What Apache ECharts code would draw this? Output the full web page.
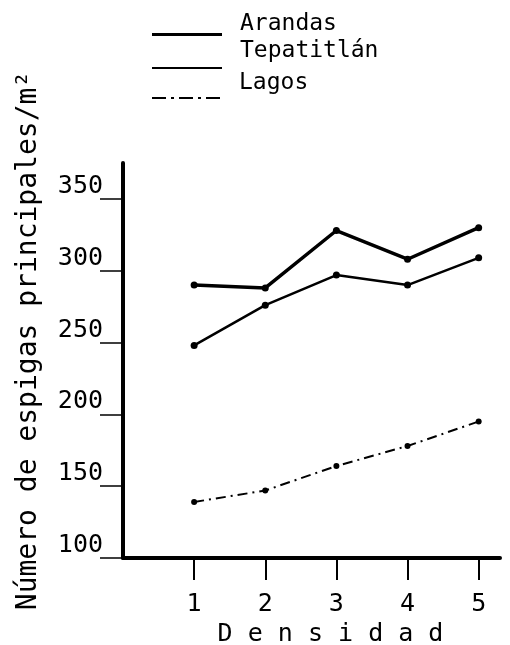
<!DOCTYPE html>
<html>
<head>
<meta charset="utf-8">
<script src="https://cdn.jsdelivr.net/npm/echarts@6/dist/echarts.min.js"></script>
<style>
  html, body { margin: 0; padding: 0; background: #fff; }
  #chart { width: 510px; height: 645px; }
</style>
</head>
<body>
<div id="chart"></div>
<script>
// Spike counts per square metre by planting density, three localities
const densidad = [1, 2, 3, 4, 5];
const arandas = [290, 288, 328, 308, 330];
const tepatitlan = [248, 276, 297, 290, 309];
const lagos = [139, 147, 164, 178, 195];
const yTicks = [100, 150, 200, 250, 300, 350];
const seriesNames = ['Arandas', 'Tepatitlán', 'Lagos'];

const FONT = 'DejaVu Sans Mono';
const INK = '#000';

function pairs(values) {
  return densidad.map((d, i) => [d, values[i]]);
}

// legend swatches: thick solid, thin solid, dash-dot
const icons = [
  'path://M0,0H70V3H0Z',
  'path://M0,0H70V2H0Z',
  'path://M0,0H14V2H0Z M19,0H22V2H19Z M27,0H41V2H27Z M46,0H49V2H46Z M54,0H68V2H54Z'
];
const iconHeights = [3, 2, 2];
const legendLineHeights = [20, 34, 30];
const legendTops = [13, 34, 68];

// each entry is its own legend so the swatch sits under its label
const legends = seriesNames.map((name, i) => ({
  data: [{ name: name, icon: icons[i] }],
  left: 152,
  top: legendTops[i],
  padding: 0,
  itemWidth: 70,
  itemHeight: iconHeights[i],
  itemGap: 0,
  selectedMode: false,
  inactiveColor: INK,
  formatter: n => n + '\n ',
  textStyle: {
    fontFamily: FONT,
    fontSize: 23,
    lineHeight: legendLineHeights[i],
    color: INK,
    padding: [0, 0, 0, 13]
  }
}));

const chart = echarts.init(document.getElementById('chart'), null, { renderer: 'canvas' });

chart.setOption({
  backgroundColor: '#fff',
  animation: false,
  legend: legends,
  grid: { left: 123, right: 10, top: 163, bottom: 87, outerBoundsMode: 'none' },
  xAxis: {
    type: 'value',
    min: 0,
    max: 5.3,
    interval: 1,
    name: 'D e n s i d a d',
    nameLocation: 'middle',
    nameGap: 53,
    nameTextStyle: { fontFamily: FONT, fontSize: 25, color: INK, padding: [0, 0, 0, 38] },
    splitLine: { show: false },
    axisLine: { show: true, lineStyle: { color: INK, width: 4 } },
    axisTick: { show: true, length: 22, customValues: densidad, lineStyle: { color: INK, width: 2 } },
    axisLabel: { margin: 34, customValues: densidad, fontFamily: FONT, fontSize: 25, color: INK }
  },
  yAxis: {
    type: 'value',
    min: 100,
    max: 375,
    interval: 50,
    name: 'Número de espigas principales/m²',
    nameLocation: 'middle',
    nameGap: 80,
    nameRotate: 90,
    nameTextStyle: { fontFamily: FONT, fontSize: 28, color: INK, padding: [0, 0, 0, 40] },
    splitLine: { show: false },
    axisLine: { show: true, lineStyle: { color: INK, width: 4 } },
    axisTick: { show: true, length: 23, customValues: yTicks, lineStyle: { color: INK, width: 1.5 } },
    axisLabel: {
      margin: 20,
      customValues: yTicks,
      verticalAlign: 'bottom',
      fontFamily: FONT,
      fontSize: 25,
      color: INK
    }
  },
  series: [
    {
      name: seriesNames[0],
      type: 'line',
      data: pairs(arandas),
      symbol: 'circle',
      symbolSize: 7,
      itemStyle: { color: INK },
      lineStyle: { color: INK, width: 3.5 }
    },
    {
      name: seriesNames[1],
      type: 'line',
      data: pairs(tepatitlan),
      symbol: 'circle',
      symbolSize: 7,
      itemStyle: { color: INK },
      lineStyle: { color: INK, width: 2.5 }
    },
    {
      name: seriesNames[2],
      type: 'line',
      data: pairs(lagos),
      symbol: 'circle',
      symbolSize: 6,
      itemStyle: { color: INK },
      lineStyle: { color: INK, width: 2, type: [10, 5, 2, 5] }
    }
  ]
});
</script>
</body>
</html>
